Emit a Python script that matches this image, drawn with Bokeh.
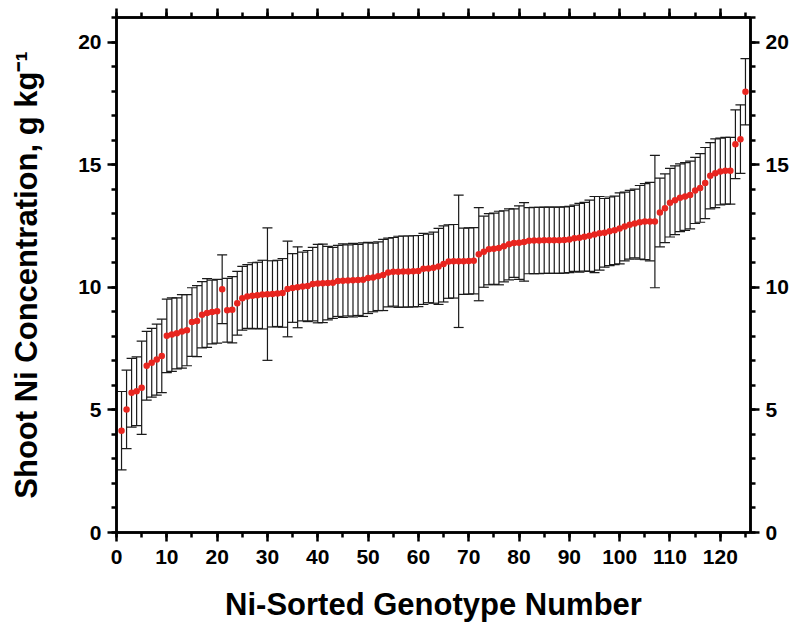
from bokeh.plotting import figure
from bokeh.models import (ColumnDataSource, Whisker, TeeHead, Range1d, LinearAxis,
                          SingleIntervalTicker)
from bokeh.embed import file_html
from bokeh.resources import INLINE

# Genotype numbers (Ni-sorted)
genotype = list(range(1, 126))

# Mean shoot Ni concentration (g/kg)
ni_mean = [
    4.15, 5.02, 5.70, 5.76, 5.90, 6.80, 6.92, 7.05, 7.20, 8.02,
    8.07, 8.12, 8.20, 8.25, 8.58, 8.62, 8.88, 8.95, 8.99, 9.02,
    9.92, 9.06, 9.08, 9.35, 9.55, 9.62, 9.65, 9.67, 9.70, 9.72,
    9.73, 9.75, 9.77, 9.93, 9.97, 10.00, 10.03, 10.05, 10.13, 10.15,
    10.16, 10.17, 10.18, 10.26, 10.27, 10.28, 10.29, 10.30, 10.31, 10.38,
    10.40, 10.45, 10.50, 10.60, 10.63, 10.63, 10.64, 10.64, 10.65, 10.66,
    10.75, 10.77, 10.80, 10.85, 10.95, 11.05, 11.06, 11.06, 11.06, 11.07,
    11.08, 11.35, 11.45, 11.55, 11.57, 11.60, 11.67, 11.75, 11.80, 11.82,
    11.85, 11.90, 11.91, 11.91, 11.92, 11.92, 11.92, 11.92, 11.93, 11.95,
    12.00, 12.02, 12.06, 12.10, 12.15, 12.20, 12.22, 12.28, 12.32, 12.40,
    12.48, 12.55, 12.60, 12.65, 12.68, 12.68, 12.68, 13.05, 13.22, 13.45,
    13.55, 13.65, 13.70, 13.76, 13.95, 14.05, 14.25, 14.55, 14.65, 14.72,
    14.75, 14.75, 15.83, 16.04, 17.97,
]

# Error (half-width of error bars, g/kg)
ni_err = [
    1.60, 1.60, 1.40, 1.40, 1.90, 1.40, 1.40, 1.45, 1.50, 1.50,
    1.50, 1.45, 1.50, 1.45, 1.40, 1.45, 1.35, 1.40, 1.30, 1.30,
    1.40, 1.30, 1.35, 1.30, 1.30, 1.30, 1.35, 1.35, 1.40, 2.70,
    1.35, 1.35, 1.40, 1.95, 1.40, 1.65, 1.40, 1.45, 1.50, 1.60,
    1.60, 1.50, 1.45, 1.45, 1.50, 1.45, 1.50, 1.45, 1.50, 1.45,
    1.40, 1.40, 1.45, 1.40, 1.40, 1.45, 1.45, 1.45, 1.45, 1.45,
    1.45, 1.40, 1.45, 1.55, 1.55, 1.50, 1.50, 2.70, 1.35, 1.35,
    1.35, 1.90, 1.45, 1.45, 1.45, 1.50, 1.45, 1.45, 1.40, 1.50,
    1.60, 1.35, 1.35, 1.35, 1.35, 1.35, 1.35, 1.35, 1.35, 1.35,
    1.35, 1.40, 1.40, 1.45, 1.55, 1.50, 1.40, 1.40, 1.40, 1.45,
    1.40, 1.40, 1.40, 1.50, 1.55, 1.60, 2.70, 1.40, 1.40, 1.40,
    1.40, 1.38, 1.38, 1.38, 1.35, 1.40, 1.45, 1.35, 1.40, 1.36,
    1.36, 1.36, 1.40, 1.40, 1.35,
]

x_tick_values = list(range(0, 130, 10))
x_label = "Ni-Sorted Genotype Number"
y_label = "Shoot Ni Concentration, g kg\u207b\u00b9"

src = ColumnDataSource(dict(
    x=genotype,
    y=ni_mean,
    upper=[m + e for m, e in zip(ni_mean, ni_err)],
    lower=[m - e for m, e in zip(ni_mean, ni_err)],
))

FONT = "Liberation Sans"

p = figure(width=806, height=629, output_backend="svg", toolbar_location=None,
           x_range=Range1d(0, 126), y_range=Range1d(0, 21),
           min_border_left=116, min_border_right=56, min_border_top=17,
           min_border_bottom=97)

p.xgrid.visible = False
p.ygrid.visible = False
p.background_fill_color = "white"
p.border_fill_color = "white"
p.outline_line_color = "black"
p.outline_line_width = 2.5

whisk = Whisker(base="x", upper="upper", lower="lower", source=src,
                dimension="height", line_color="#1a1a1a", line_width=1.2,
                upper_head=TeeHead(size=10, line_color="#1a1a1a", line_width=1.2),
                lower_head=TeeHead(size=10, line_color="#1a1a1a", line_width=1.2))
p.add_layout(whisk)

p.scatter("x", "y", source=src, size=6.5, fill_color="#e8251f", line_color=None)

xt = SingleIntervalTicker(interval=10, num_minor_ticks=2)
yt = SingleIntervalTicker(interval=5, num_minor_ticks=5)


def style(ax, show_labels=True):
    ax.axis_line_width = 2.5
    ax.axis_line_color = "black"
    ax.major_tick_line_width = 2.5
    ax.minor_tick_line_width = 2.5
    ax.major_tick_in = 0
    ax.major_tick_out = 9
    ax.minor_tick_in = 0
    ax.minor_tick_out = 5
    ax.major_label_text_font = FONT
    ax.major_label_text_font_style = "bold"
    ax.major_label_text_color = "black"
    ax.major_label_standoff = 6
    ax.major_label_text_font_size = "21px"
    if not show_labels:
        ax.major_label_overrides = {v: "" for v in x_tick_values}
        ax.major_label_text_font_size = "1px"
        ax.major_label_standoff = 0
    ax.axis_label_text_font = FONT
    ax.axis_label_text_font_style = "bold"
    ax.axis_label_text_font_size = "31px"
    ax.axis_label_text_color = "black"


p.xaxis.ticker = xt
p.yaxis.ticker = yt
style(p.xaxis[0])
style(p.yaxis[0])
p.xaxis[0].major_label_standoff = 8
p.xaxis.axis_label = x_label
p.yaxis.axis_label = y_label
p.xaxis.axis_label_standoff = 20
p.yaxis.axis_label_standoff = 31

top = LinearAxis(ticker=xt)
style(top, show_labels=False)
p.add_layout(top, "above")

right = LinearAxis(ticker=yt)
style(right)
p.add_layout(right, "right")

open("out.html", "w").write(file_html(p, INLINE))
